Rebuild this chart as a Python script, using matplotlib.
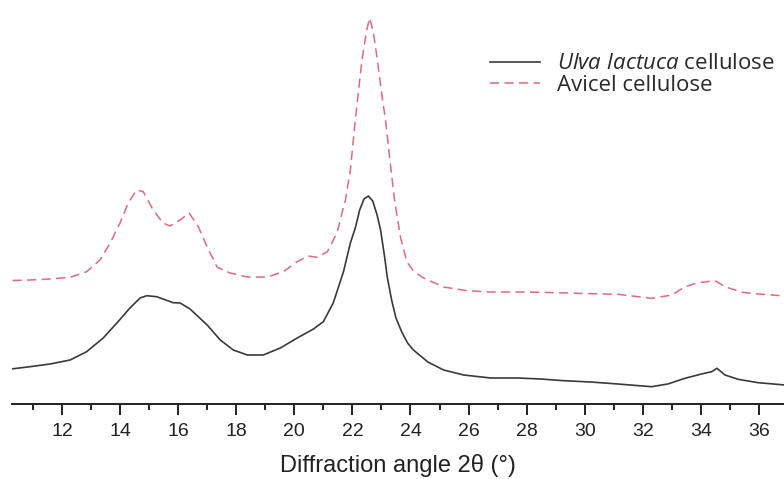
"""
XRD patterns: Ulva lactuca cellulose vs Avicel cellulose.
Run: python plot.py -> out.png
"""
import matplotlib
matplotlib.use("Agg")
import matplotlib.pyplot as plt

plt.rcParams["font.family"] = ["Liberation Sans", "DejaVu Sans"]
plt.rcParams["mathtext.fontset"] = "custom"
plt.rcParams["mathtext.it"] = "Open Sans:italic"
plt.rcParams["mathtext.rm"] = "Open Sans"

# 2theta (deg) and intensity (a.u.)
ULVA_X = [10.3, 10.9, 11.59, 12.28, 12.85, 13.42, 13.89, 14.34, 14.69, 14.92,
          15.26, 15.83, 16.07, 16.41, 17.0, 17.45, 17.9, 18.38, 18.93, 19.52,
          20.1, 20.66, 21.0, 21.34, 21.69, 21.93, 22.1, 22.25, 22.4, 22.55,
          22.7, 22.85, 22.97, 23.1, 23.2, 23.35, 23.5, 23.7, 23.9, 24.1,
          24.6, 25.14, 25.83, 26.76, 27.69, 28.48, 29.28, 30.2, 31.14, 32.3,
          32.86, 33.45, 34.02, 34.37, 34.55, 34.83, 35.28, 35.97, 36.9]
ULVA_Y = [35.2, 37.3, 40, 44, 52.3, 66, 81, 96, 106, 108.3,
          107.3, 101.3, 101, 95, 79, 64, 54, 49, 49, 56,
          66, 75, 82.3, 101, 132, 161, 176, 194, 205, 208,
          203, 189, 174, 149, 127, 104, 86, 72, 61, 54,
          42, 34, 29, 26, 26, 25, 23.3, 22, 20, 17.3,
          20, 25.7, 30, 32.3, 35.7, 29, 24.7, 21.3, 19]

AVICEL_X = [10.3, 10.9, 11.59, 12.28, 12.85, 13.31, 13.66, 14.0, 14.28, 14.57,
            14.8, 15.14, 15.48, 15.72, 16.07, 16.38, 16.7, 17.0, 17.34, 17.79,
            18.38, 19.07, 19.62, 20.1, 20.48, 20.79, 21.14, 21.48, 21.65, 21.76,
            21.93, 22.1, 22.33, 22.48, 22.59, 22.72, 22.86, 23.0, 23.14, 23.3,
            23.45, 23.66, 23.88, 24.1, 24.45, 25.14, 25.95, 26.76, 27.9, 29.07,
            30.0, 31.14, 32.3, 33.0, 33.45, 33.9, 34.48, 34.83, 35.41, 36.1,
            36.9]
AVICEL_Y = [123.5, 124, 125, 126.7, 132.3, 144, 161, 181, 201, 214,
            212.3, 194, 181, 178, 184, 191, 177, 157, 137, 131,
            127, 127, 132.3, 142.3, 148, 146.7, 152.3, 172, 192, 204,
            234, 284, 344, 372, 386, 372, 344, 312, 284, 242,
            204, 166, 142, 133, 126, 117, 113.3, 112, 112, 111.3,
            110.5, 109.7, 105.7, 109, 117.3, 121.3, 123.3, 117.3, 111.7, 109.7,
            108]

XTICKS = list(range(12, 37, 2))
XMINOR = list(range(11, 37, 2))

fig = plt.figure(figsize=(7.84, 4.79), dpi=100)
ax = fig.add_axes([12 / 784, 75 / 479, 772 / 784, 404 / 479])

ax.plot(ULVA_X, ULVA_Y, "-", color="#3a3a3a", lw=1.2,
        label=r"$\it{Ulva\ lactuca}$ cellulose")
ax.plot(AVICEL_X, AVICEL_Y, "--", color="#de6a80", lw=1.1,
        dashes=(6, 3.5), label="Avicel cellulose")

ax.set_xlim(10.28, 36.86)
ax.set_ylim(0, 404)
ax.set_xticks(XTICKS)
ax.set_xticks(XMINOR, minor=True)
ax.set_yticks([])
for s in ("top", "right", "left"):
    ax.spines[s].set_visible(False)
ax.spines["bottom"].set_linewidth(1.4)
ax.spines["bottom"].set_color("#222222")
ax.tick_params(axis="x", which="major", length=8, width=1.4, pad=6,
               labelsize=14, colors="#222222")
ax.tick_params(axis="x", which="minor", length=4, width=1.4, colors="#222222")
ax.set_xlabel("Diffraction angle 2θ (°)", fontsize=17, labelpad=10, color="#222222")

ax.legend(loc="upper left", bbox_to_anchor=(0.619, 0.868), frameon=False,
          handlelength=2.25, labelspacing=0.02, handletextpad=0.75,
          borderpad=0, borderaxespad=0, labelcolor="#2a2a2a",
          prop={"family": "Open Sans", "size": 16})

fig.savefig("out.png", dpi=100)
